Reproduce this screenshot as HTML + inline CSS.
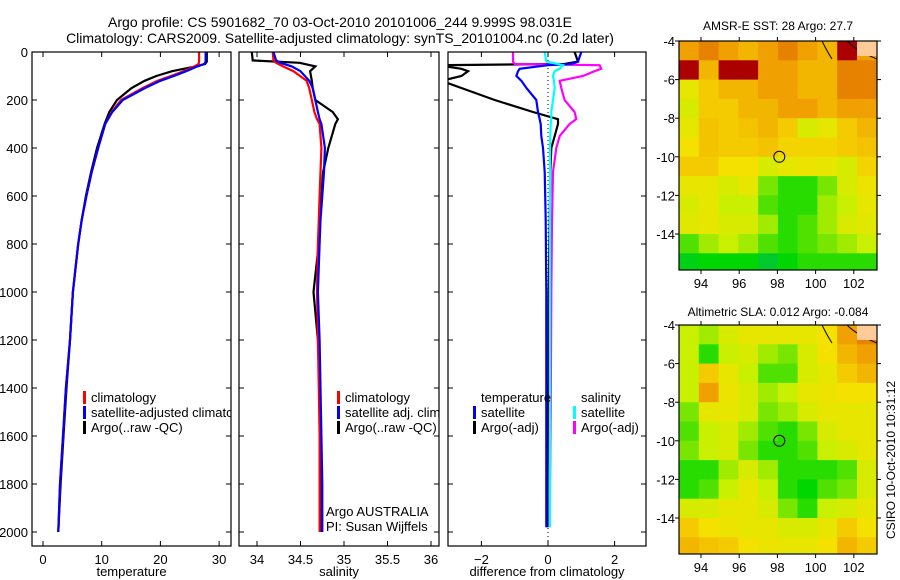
<!DOCTYPE html>
<html><head><meta charset="utf-8"><style>
html,body{margin:0;padding:0;background:#fff;}
svg{display:block;font-family:"Liberation Sans",sans-serif;}
</style></head><body>
<svg id="fig" width="900" height="580" viewBox="0 0 900 580" xmlns="http://www.w3.org/2000/svg">
<text x="340" y="27" font-size="14" text-anchor="middle">Argo profile: CS 5901682_70 03-Oct-2010 20101006_244 9.999S 98.031E</text>
<text x="340" y="43" font-size="14" text-anchor="middle">Climatology: CARS2009. Satellite-adjusted climatology: synTS_20101004.nc (0.2d later)</text>
<text x="778" y="30" font-size="12" text-anchor="middle">AMSR-E SST: 28 Argo: 27.7</text>
<text x="778" y="316" font-size="12" text-anchor="middle">Altimetric SLA: 0.012 Argo: -0.084</text>
<text transform="translate(895,460) rotate(-90)" font-size="12" text-anchor="middle">CSIRO 10-Oct-2010 10:31:12</text>
</svg>
<script>
// ---- data ----
const depthTicks = [0,200,400,600,800,1000,1200,1400,1600,1800,2000];
const tempTicks = [0,10,20,30];
const salTicks = [34,34.5,35,35.5,36];
const diffTicks = [-2,0,2];
const tDepthClim = [0,40,50,60,80,100,120,150,200,250,300,400,500,600,700,800,1000,1200,1400,1600,1800,2000];
const tempClim = [26.6,26.6,26.5,25.8,24,21.8,19.5,17,13.3,11.7,10.6,9.4,8.3,7.4,6.6,6,5.1,4.6,3.9,3.4,2.9,2.6];
const tempSat = [27.7,27.7,27.5,26.3,24.4,22.3,20,17.4,13.6,11.8,10.6,9.4,8.3,7.4,6.6,6,5.1,4.6,3.9,3.4,2.9,2.6];
const tempArgo = [27.9,27.9,27.6,26,22,19.3,17.3,15.1,12.6,11.3,10.5,9.2,8.2,7.3,6.6,6,5.1,4.6,4,3.5,3,2.6];
const sDepth = [0,35,45,60,80,120,150,200,250,280,300,400,500,600,700,800,1000,1200,1400,1600,1800,2000];
const salClim = [34.18,34.19,34.22,34.3,34.42,34.57,34.6,34.63,34.66,34.69,34.72,34.74,34.73,34.72,34.71,34.7,34.69,34.7,34.71,34.72,34.72,34.72];
const salSat = [34.19,34.22,34.27,34.4,34.5,34.6,34.64,34.67,34.7,34.72,34.74,34.78,34.77,34.75,34.73,34.72,34.7,34.72,34.73,34.74,34.75,34.75];
const salArgo = [33.94,33.95,34.49,34.67,34.61,34.63,34.64,34.67,34.87,34.93,34.9,34.82,34.76,34.74,34.72,34.71,34.65,34.7,34.72,34.73,34.74,34.74];
const dDepth = [0,40,50,55,70,80,100,120,150,200,250,280,300,350,400,500,700,1000,1500,1980];
const dTempSat = [1.0,0.9,0.7,0,-0.85,-0.9,-0.95,-0.8,-0.65,-0.35,-0.3,-0.25,-0.22,-0.2,-0.15,-0.1,-0.07,-0.05,-0.05,-0.05];
const dTempArgo = [0.8,0.9,0.5,-3.3,-2.6,-2.4,-2.6,-3.2,-2.6,-1.6,-0.45,0.3,0.3,0.2,0.1,0.07,0.05,0.02,0.0,-0.02];
const dSalSat = [-0.1,-0.05,0.3,0.45,0.35,0.2,0.15,0.18,0.2,0.15,0.1,0.1,0.08,0.07,0.06,0.06,0.06,0.06,0.06,0.06];
const dSalArgo = [-1.05,-1.05,-1.0,1.55,1.6,1.4,1.05,0.35,0.4,0.5,0.8,0.85,0.65,0.35,0.25,0.15,0.12,0.1,0.08,0.05];
const mapLatTicks = [-4,-6,-8,-10,-12,-14];
const mapLatLabels = ["-4","-6","-8","-10","-12","-14"];
const mapLonTicks = [94,96,98,100,102];
const sstGrid = [
[0.8,0.85,0.8,0.75,0.8,0.85,0.8,0.75,1.0,0.8],
[1.0,0.75,1.0,1.0,0.8,0.8,0.75,0.75,0.85,0.85],
[0.6,0.7,0.75,0.75,0.8,0.8,0.75,0.75,0.85,0.85],
[0.55,0.7,0.7,0.75,0.75,0.8,0.8,0.75,0.8,0.8],
[0.6,0.72,0.7,0.72,0.75,0.7,0.55,0.6,0.7,0.75],
[0.65,0.72,0.7,0.7,0.72,0.68,0.68,0.68,0.7,0.72],
[0.7,0.7,0.65,0.65,0.55,0.6,0.62,0.6,0.55,0.68],
[0.6,0.6,0.55,0.6,0.4,0.3,0.3,0.4,0.55,0.62],
[0.55,0.6,0.5,0.5,0.35,0.3,0.3,0.45,0.5,0.6],
[0.58,0.6,0.55,0.55,0.45,0.3,0.35,0.45,0.55,0.58],
[0.35,0.45,0.5,0.45,0.35,0.3,0.35,0.4,0.45,0.5],
[0.2,0.25,0.25,0.25,0.15,0.25,0.3,0.3,0.3,0.3]];
const slaGrid = [
[0.5,0.45,0.55,0.6,0.6,0.6,0.6,0.65,0.8,0.85],
[0.5,0.3,0.5,0.55,0.45,0.4,0.55,0.65,0.75,0.8],
[0.5,0.7,0.6,0.5,0.35,0.35,0.55,0.6,0.7,0.75],
[0.5,0.8,0.62,0.55,0.45,0.5,0.6,0.62,0.65,0.65],
[0.4,0.6,0.6,0.55,0.4,0.45,0.55,0.6,0.6,0.6],
[0.35,0.5,0.55,0.45,0.35,0.3,0.4,0.55,0.6,0.6],
[0.4,0.5,0.55,0.4,0.3,0.3,0.35,0.5,0.55,0.6],
[0.3,0.3,0.45,0.55,0.45,0.3,0.3,0.3,0.35,0.55],
[0.3,0.35,0.5,0.6,0.5,0.3,0.25,0.35,0.4,0.55],
[0.55,0.55,0.6,0.6,0.55,0.4,0.3,0.5,0.55,0.6],
[0.7,0.65,0.62,0.6,0.6,0.55,0.55,0.6,0.7,0.65],
[0.75,0.72,0.7,0.65,0.62,0.6,0.6,0.65,0.75,0.7]];
const argoLon = [98.1];
const argoLat = [-10];

// ---- drawing ----
const NS='http://www.w3.org/2000/svg';
const svg=document.getElementById('fig');
function mk(tag,attrs,parent){const e=document.createElementNS(NS,tag);for(const k in attrs)e.setAttribute(k,attrs[k]);(parent||svg).appendChild(e);return e;}
const yD = d => 52 + d*0.24;
const PT=52,PB=546;
const panels=[
 {x0:32,x1:231,sx:v=>43+v*5.87,ticks:tempTicks,label:'temperature',name:'temperature'},
 {x0:239,x1:439,sx:v=>257+(v-34)*87,ticks:salTicks,label:'salinity',name:'salinity'},
 {x0:448,x1:646,sx:v=>548+v*33.3,ticks:diffTicks,label:'difference from climatology',name:'difference'}];
panels.forEach((p,i)=>{
  const g=mk('g',{});
  
  
  const cp=mk('clipPath',{id:'cp'+i},g);mk('rect',{x:p.x0,y:PT,width:p.x1-p.x0,height:PB-PT},cp);
  depthTicks.forEach(d=>{const y=yD(d);
    mk('line',{x1:p.x0,x2:p.x0+5,y1:y,y2:y,stroke:'#000'},g);
    mk('line',{x1:p.x1-5,x2:p.x1,y1:y,y2:y,stroke:'#000'},g);
    if(i===0){const t=mk('text',{x:28,y:y+5,'font-size':13,'text-anchor':'end'},g);t.textContent=d;
      
      }
  });
  p.ticks.forEach(v=>{const x=p.sx(v);
    mk('line',{x1:x,x2:x,y1:PB,y2:PB-5,stroke:'#000'},g);
    mk('line',{x1:x,x2:x,y1:PT,y2:PT+5,stroke:'#000'},g);
    const t=mk('text',{x:x,y:PB+18,'font-size':13,'text-anchor':'middle'},g);t.textContent=v<0?'\u2212'+(-v):v;
    
    
  });
  const xl=mk('text',{x:(p.x0+p.x1)/2,y:576,'font-size':13,'text-anchor':'middle'},g);xl.textContent=p.label;
  
  
  p.g=mk('g',{'clip-path':'url(#cp'+i+')'},g);
  mk('rect',{x:p.x0,y:PT,width:p.x1-p.x0,height:PB-PT,fill:'none',stroke:'#000','stroke-width':1.2},g);
});
function line(p,depths,vals,col,name,w){
  const pts=depths.map((d,k)=>p.sx(vals[k]).toFixed(1)+','+yD(d).toFixed(1)).join(' ');
  const l=mk('polyline',{points:pts,fill:'none',stroke:col,'stroke-width':w||2.2},p.g);
  
  
}
// zero line
const zl=mk('line',{x1:panels[2].sx(0),x2:panels[2].sx(0),y1:PT,y2:PB,stroke:'#000','stroke-dasharray':'1,3'},panels[2].g);


line(panels[0],tDepthClim,tempArgo,'#000','temp-argo-line');
line(panels[0],tDepthClim,tempClim,'#f00','temp-climatology-line');
line(panels[0],tDepthClim,tempSat,'#00f','temp-satellite-line');
line(panels[1],sDepth,salArgo,'#000','sal-argo-line');
line(panels[1],sDepth,salClim,'#f00','sal-climatology-line');
line(panels[1],sDepth,salSat,'#00f','sal-satellite-line');
line(panels[2],dDepth,dTempArgo,'#000','diff-temp-argo-line');
line(panels[2],dDepth,dSalArgo,'#f0f','diff-sal-argo-line');
line(panels[2],dDepth,dTempSat,'#00f','diff-temp-satellite-line');
line(panels[2],dDepth,dSalSat,'#0ff','diff-sal-satellite-line');
// legends
function leg(parent,x,y,col,txt,name){
  if(col){mk('rect',{x:x,y:y-11,width:3,height:13,fill:col},parent);}
  const t=mk('text',{x:x+8,y:y,'font-size':13},parent);t.textContent=txt;
  
  
}
leg(panels[0].g,83,402,'#f00','climatology','legend-climatology');
leg(panels[0].g,83,417,'#00f','satellite-adjusted climatology','legend-satellite-adjusted');
leg(panels[0].g,83,432,'#000','Argo(..raw -QC)','legend-argo');
leg(panels[1].g,337,402,'#f00','climatology','legend-climatology');
leg(panels[1].g,337,417,'#00f','satellite adj. clim.','legend-satellite-adj');
leg(panels[1].g,337,432,'#000','Argo(..raw -QC)','legend-argo');
leg(panels[1].g,318,516,null,'Argo AUSTRALIA','argo-australia-label');
leg(panels[1].g,318,531,null,'PI: Susan Wijffels','pi-label');
leg(panels[2].g,473,402,null,'temperature','legend-temperature-header');
leg(panels[2].g,573,402,null,'salinity','legend-salinity-header');
leg(panels[2].g,473,417,'#00f','satellite','legend-temp-satellite');
leg(panels[2].g,473,432,'#000','Argo(-adj)','legend-temp-argo');
leg(panels[2].g,573,417,'#0ff','satellite','legend-sal-satellite');
leg(panels[2].g,573,432,'#f0f','Argo(-adj)','legend-sal-argo');
// maps
function cmap(v){
  const stops=[[0,[0,180,110]],[0.25,[0,215,0]],[0.5,[200,240,0]],[0.65,[245,225,0]],[0.8,[240,160,0]],[0.9,[220,100,0]],[1,[170,0,0]]];
  for(let i=1;i<stops.length;i++){if(v<=stops[i][0]){const a=stops[i-1],b=stops[i],f=(v-a[0])/(b[0]-a[0]);
    return 'rgb('+a[1].map((c,k)=>Math.round(c+(b[1][k]-c)*f)).join(',')+')';}}
  return 'rgb(170,0,0)';
}
function drawMap(top,grid,name){
  const X0=679,X1=877,Y1=top+229;
  const sx=lon=>701+(lon-94)*19.1, sy=lat=>top+(-4-lat)*19.3;
  const g=mk('g',{});
  
  
  const cid='mc'+top;const cp=mk('clipPath',{id:cid},g);mk('rect',{x:X0,y:top,width:X1-X0,height:Y1-top},cp);
  const cg=mk('g',{'clip-path':'url(#'+cid+')'},g);
  grid.forEach((row,r)=>row.forEach((v,c)=>{
    const x=sx(92.85+c*1.035), y=sy(-4-r);
    const cell=mk('rect',{x:x.toFixed(1),y:y.toFixed(1),width:(19.1*1.035+0.6).toFixed(1),height:20,fill:cmap(v)},cg);
    
    
  }));
  mk('path',{d:`M${X1-30},${top} q10,10 30,18 M${X1-55},${top} q6,12 10,18`,fill:'none',stroke:'#000'},cg);
  mk('rect',{x:X1-20,y:top,width:20,height:15,fill:'#fc9'},cg);
  argoLon.forEach((lon,k)=>{const c=mk('circle',{cx:sx(lon),cy:sy(argoLat[k]),r:5.5,fill:'none',stroke:'#000'},g);
    
    });
  mk('rect',{x:X0,y:top,width:X1-X0,height:Y1-top,fill:'none',stroke:'#000','stroke-width':1.2},g);
  mapLatTicks.forEach((lat,k)=>{const y=sy(lat);
    mk('line',{x1:X0-4,x2:X0,y1:y,y2:y,stroke:'#000'},g);mk('line',{x1:X1,x2:X1+4,y1:y,y2:y,stroke:'#000'},g);
    const t=mk('text',{x:X0-4,y:y+5,'font-size':13,'text-anchor':'end'},g);t.textContent=mapLatLabels[k];
    
    });
  mapLonTicks.forEach(lon=>{const x=sx(lon);
    mk('line',{x1:x,x2:x,y1:Y1,y2:Y1+4,stroke:'#000'},g);mk('line',{x1:x,x2:x,y1:top-4,y2:top,stroke:'#000'},g);
    const t=mk('text',{x:x,y:Y1+18,'font-size':13,'text-anchor':'middle'},g);t.textContent=lon;
    
    });
}
drawMap(41,sstGrid,'sst-map');
drawMap(325,slaGrid,'sla-map');
</script>
</body></html>
